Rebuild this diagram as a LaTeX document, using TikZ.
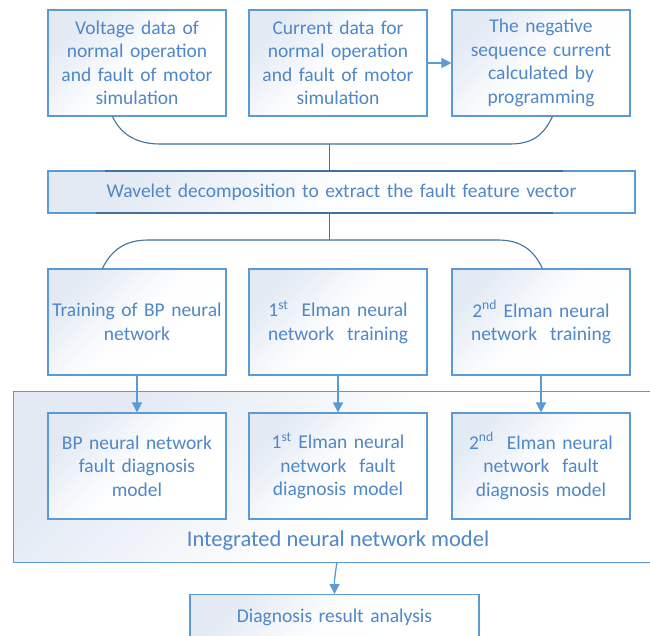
\documentclass[tikz,border=0pt]{standalone}
\usepackage{fontspec}
\setmainfont{Carlito}
\usetikzlibrary{arrows.meta,calc}
\definecolor{txt}{HTML}{4F87C7}
\definecolor{edge}{HTML}{5B9BD5}
\definecolor{conn}{HTML}{41719C}
\definecolor{shadeA}{HTML}{E3EAF4}
\begin{document}
\begin{tikzpicture}[x=1pt,y=-1pt,
  box/.style={draw=edge, line width=1.1pt, top color=shadeA, bottom color=white, middle color=white!96!shadeA, shading angle=45,
    minimum width=178pt, minimum height=106pt, text width=174pt, align=center, inner sep=0pt,
    text=txt, font=\fontsize{19.5}{23.5}\selectfont},
  arr/.style={draw=edge, line width=1.3pt, -{Triangle[length=10pt,width=10pt]}},
  brace/.style={draw=conn, line width=1.1pt}]
\useasboundingbox (0,0) rectangle (650,635);
\clip (0,0) rectangle (650,635);
% container
\node[draw=edge, line width=1.1pt, top color=shadeA, bottom color=white, middle color=white!96!shadeA, shading angle=45,
  minimum width=700pt, minimum height=171pt, anchor=north west, inner sep=0pt] (int) at (13,391) {};
\node[text=txt, font=\fontsize{22.5}{27}\selectfont] (intl) at (338,541) {Integrated neural network model};
% row 1
\node[box] (v) at (137,63) {Voltage data of\\normal operation\\and fault of motor\\simulation};
\node[box] (c) at (338,63) {Current data for\\normal operation\\and fault of motor\\simulation};
\node[box] (n) at (541,63) {The negative\\sequence current\\calculated by\\programming};
% wavelet
\node[box, minimum width=587pt, minimum height=42pt, text width=580pt] (w) at (341.5,192)
  {Wavelet decomposition to extract the fault feature vector};
% row 2
\node[box] (tbp) at (137,322) {Training of BP neural\\network};
\node[box] (t1) at (338,322) {1\textsuperscript{st}~ Elman neural\\network~ training};
\node[box] (t2) at (541,322) {2\textsuperscript{nd} Elman neural\\network~ training};
% row 3
\node[box] (mbp) at (137,466) {BP neural network\\fault diagnosis\\model};
\node[box] (m1) at (338,466) {1\textsuperscript{st} Elman neural\\network~ fault\\diagnosis model};
\node[box] (m2) at (541,466) {2\textsuperscript{nd}~ Elman neural\\network~ fault\\diagnosis model};
% diagnosis
\node[box, minimum width=289pt, minimum height=46pt, text width=280pt, anchor=north] (d) at (334.5,594)
  {Diagnosis result analysis};
% connectors
\draw[arr] (c.east) -- (n.west);
\coordinate (tl) at (160,144);
\coordinate (tr) at (510,144);
\coordinate (tm) at (329.5,144);
\draw[brace] ($(v.south west)+(65,0)$) .. controls +(9,19) and +(-22,0) .. (tl) -- (tr)
  .. controls +(22,0) and +(-9,19) .. ($(n.south west)+(101,0)$);
\draw[brace] (tm) -- (tm |- w.north);
\coordinate (bl) at (148,240);
\coordinate (br) at (498,240);
\coordinate (bm) at (329.5,240);
\draw[brace] (bm |- w.south) -- (bm);
\draw[brace] ($(tbp.north west)+(55,0)$) .. controls +(9,-19) and +(-22,0) .. (bl) -- (br)
  .. controls +(22,0) and +(-9,-19) .. ($(t2.north west)+(91,0)$);
\draw[brace, line width=1.6pt] (105,171) -- (563,171);
\draw[brace, line width=1.6pt] (96,213) -- (553,213);
\draw[arr] (tbp.south) -- (mbp.north);
\draw[arr] (t1.south) -- (m1.north);
\draw[arr] (t2.south) -- (m2.north);
\coordinate (ia) at (337,562);
\draw[arr] (ia) .. controls +(-1.5,10) .. ($(d.north)+(0,-14)$) -- (d.north);
\end{tikzpicture}
\end{document}
